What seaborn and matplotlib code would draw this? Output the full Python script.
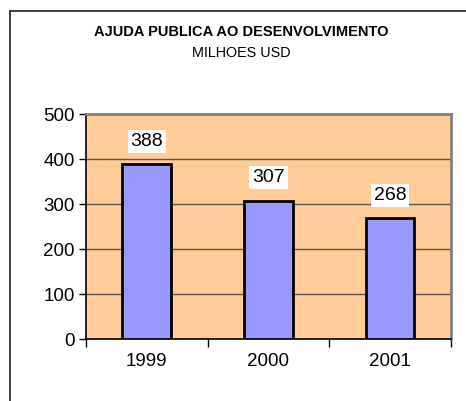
import matplotlib
matplotlib.use("Agg")
import matplotlib.pyplot as plt
import seaborn as sns
import pandas as pd
from matplotlib.lines import Line2D

anos = ["1999", "2000", "2001"]
valores = [388, 307, 268]
titulo = "AJUDA PUBLICA AO DESENVOLVIMENTO"
subtitulo = "MILHOES USD"
yticks = [0, 100, 200, 300, 400, 500]

sns.set_theme(style="white")
plt.rcParams["font.family"] = ["Liberation Sans", "DejaVu Sans"]
plt.rcParams["text.color"] = "black"
plt.rcParams["xtick.labelcolor"] = "black"
plt.rcParams["ytick.labelcolor"] = "black"

df = pd.DataFrame({"ano": anos, "valor": valores})

fig = plt.figure(figsize=(4.66, 4.01), dpi=100)
ax = fig.add_axes([0.1845, 0.1546, 0.9678 - 0.1845, 0.7157 - 0.1546])
ax.set_facecolor("#FFCC99")

sns.barplot(data=df, x="ano", y="valor", color="#9999FF", saturation=1,
            width=0.4, edgecolor="black", linewidth=2, ax=ax, zorder=3)

ax.set_xlim(-0.5, 2.5)
ax.set_ylim(0, 500)
ax.set_yticks(yticks)
ax.set_yticklabels([str(v) for v in yticks], fontsize=13.5)
ax.grid(axis="y", color="#555555", linewidth=1, zorder=1)
ax.set_axisbelow(True)
ax.set_xlabel("")
ax.set_ylabel("")

# x ticks on category boundaries, labels in the middle
ax.set_xticks([-0.5, 0.5, 1.5, 2.5])
ax.set_xticklabels([])
ax.set_xticks([0, 1, 2], minor=True)
ax.set_xticklabels(anos, minor=True, fontsize=13.5)
ax.tick_params(axis="x", which="major", direction="out", length=6, width=1,
               color="black", bottom=True)
ax.tick_params(axis="x", which="minor", length=0, pad=10)
ax.tick_params(axis="y", direction="out", length=5, width=1, color="black",
               left=True, pad=3)

for side in ["top", "right"]:
    ax.spines[side].set_color("#808080")
    ax.spines[side].set_linewidth(2)
for side in ["left", "bottom"]:
    ax.spines[side].set_color("black")
    ax.spines[side].set_linewidth(1.2)

for i, v in enumerate(valores):
    ax.annotate(str(v), (i, v), xytext=(0, 23), textcoords="offset pixels",
                ha="center", va="center", fontsize=14, zorder=5,
                bbox=dict(boxstyle="square,pad=0.15", fc="white", ec="none"))

fig.text(241 / 466, 1 - 32 / 401, titulo, ha="center", va="center",
         fontsize=10.5, fontweight="bold")
fig.text(241 / 466, 1 - 53 / 401, subtitulo, ha="center", va="center",
         fontsize=10.4)

# outer chart border (only top and left visible)
fig.add_artist(Line2D([9.5 / 466, 1.0], [1 - 10.5 / 401] * 2,
                      transform=fig.transFigure, color="#222222", linewidth=1.2))
fig.add_artist(Line2D([9.5 / 466] * 2, [0, 1 - 10.5 / 401],
                      transform=fig.transFigure, color="#222222", linewidth=1.2))

fig.savefig("out.png", dpi=100)
